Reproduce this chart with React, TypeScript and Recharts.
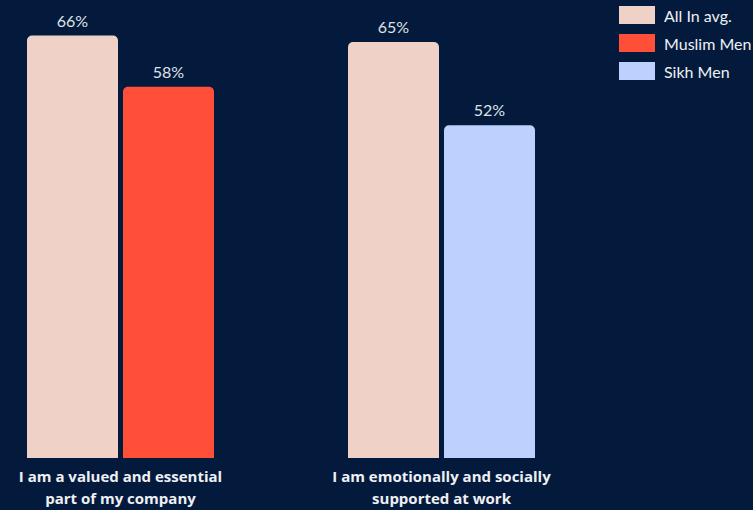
import React from 'react';
import { BarChart, Bar, XAxis, YAxis, Cell, LabelList } from 'recharts';

const categories = ['I am a valued and essential\npart of my company', 'I am emotionally and socially\nsupported at work'];
const allInAvg = [66, 65];
const groupValues = [58, 52];
const groupNames = ['Muslim Men', 'Sikh Men'];

const BG = '#041a3c';
const AVG_COLOR = '#f0d1c7';
const GROUP_COLORS = ['#ff4f38', '#bdd1ff'];
const FONT = 'Lato, "Open Sans", sans-serif';
const TICK_FONT = '"Open Sans", Lato, sans-serif';

const data = categories.map((name, i) => ({
  name,
  avg: allInAvg[i],
  group: groupValues[i],
}));

const legendItems = [
  { label: 'All In avg.', color: AVG_COLOR },
  ...groupNames.map((label, i) => ({ label, color: GROUP_COLORS[i] })),
];

const CategoryTick = (props: any) => {
  const { x, y, payload } = props;
  const lines = String(payload.value).split('\n');
  return (
    <g transform={`translate(${x},${y})`}>
      {lines.map((line, i) => (
        <text
          key={i}
          x={0}
          y={15.5 + i * 22}
          textAnchor="middle"
          fill="#eef0f4"
          fontSize={15}
          fontWeight={700}
          fontFamily={TICK_FONT}
        >
          {line}
        </text>
      ))}
    </g>
  );
};

const LegendBox = () => (
  <div style={{ position: 'absolute', top: 1, left: 619, fontFamily: FONT }}>
    {legendItems.map((item) => (
      <div key={item.label} style={{ display: 'flex', alignItems: 'center', height: 28 }}>
        <div style={{ width: 36, height: 18, background: item.color, marginRight: 9 }} />
        <span style={{ color: '#eef0f4', fontSize: 16, whiteSpace: 'nowrap' }}>{item.label}</span>
      </div>
    ))}
  </div>
);

const App = () => {
  return (
    <div style={{ width: 753, height: 510, background: BG, overflow: 'hidden', position: 'relative' }}>
      <style>{'body{margin:0;background:' + BG + ';}'}</style>
      <BarChart
        width={753}
        height={510}
        data={data}
        margin={{ top: 10, right: 151, left: -40, bottom: 0 }}
        barSize={91}
        barGap={5}
      >
        <XAxis dataKey="name" axisLine={false} tickLine={false} height={52} tick={<CategoryTick />} interval={0} />
        <YAxis hide domain={[0, 70]} />
        <Bar dataKey="avg" fill={AVG_COLOR} radius={[5, 5, 0, 0]} isAnimationActive={false}>
          <LabelList
            dataKey="avg"
            position="top"
            offset={9}
            formatter={(v: any) => `${v}%`}
            fill="#dfe2e8"
            fontSize={16}
            fontFamily={FONT}
          />
        </Bar>
        <Bar dataKey="group" radius={[5, 5, 0, 0]} isAnimationActive={false}>
          {data.map((_, i) => (
            <Cell key={i} fill={GROUP_COLORS[i]} />
          ))}
          <LabelList
            dataKey="group"
            position="top"
            offset={9}
            formatter={(v: any) => `${v}%`}
            fill="#dfe2e8"
            fontSize={16}
            fontFamily={FONT}
          />
        </Bar>
      </BarChart>
      <LegendBox />
    </div>
  );
};

export default App;
